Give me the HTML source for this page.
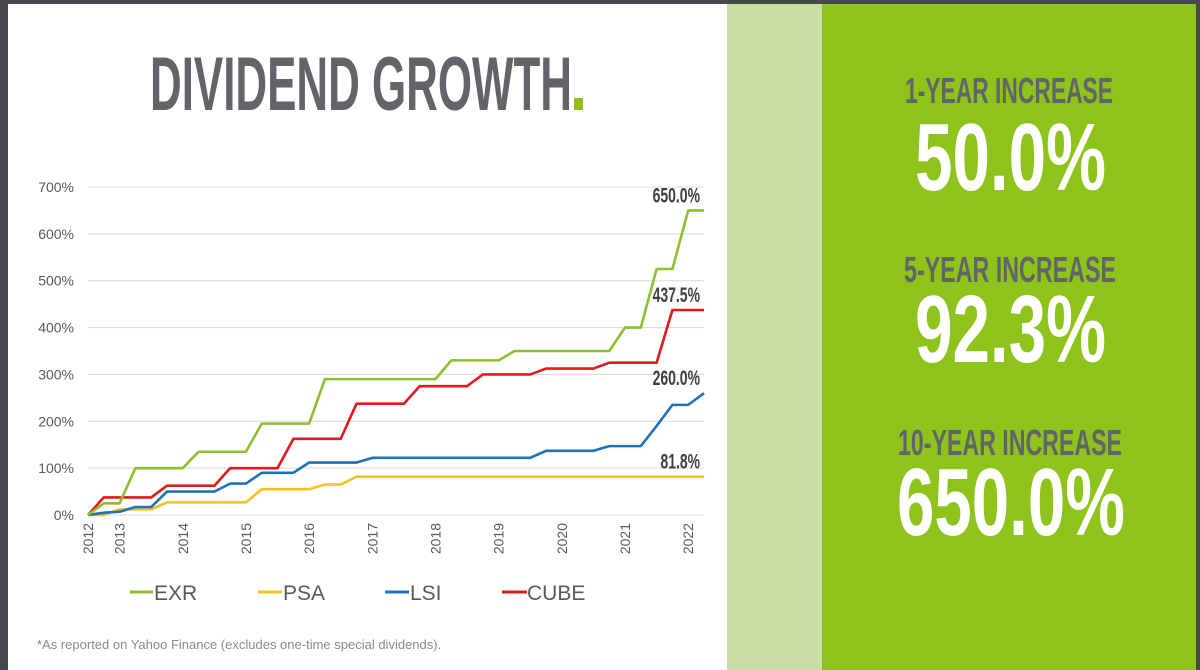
<!DOCTYPE html>
<html><head><meta charset="utf-8"><style>
html,body{margin:0;padding:0;background:#fff}
svg{display:block;font-family:"Liberation Sans",sans-serif}
</style></head><body>
<svg width="1200" height="670" viewBox="0 0 1200 670">
<rect x="0" y="0" width="1200" height="670" fill="#ffffff"/>
<rect x="727" y="0" width="95" height="670" fill="#c9dea3"/>
<rect x="822" y="0" width="378" height="670" fill="#8ec31b"/>
<rect x="0" y="0" width="1200" height="4" fill="#45484c"/>
<rect x="0" y="0" width="8" height="670" fill="#45484c"/>
<rect x="1196" y="0" width="4" height="670" fill="#45484c"/>
<text x="150" y="110" font-size="76" font-weight="bold" fill="#626469" textLength="422" lengthAdjust="spacingAndGlyphs">DIVIDEND GROWTH</text>
<rect x="574" y="98" width="9" height="12" fill="#8ec31b"/>

<g>
<text x="905" y="103" font-size="36" font-weight="bold" fill="#626469" textLength="208" lengthAdjust="spacingAndGlyphs">1-YEAR INCREASE</text>
<text x="915" y="190" font-size="96" font-weight="bold" fill="#fff" textLength="191" lengthAdjust="spacingAndGlyphs">50.0%</text>
<text x="904" y="282" font-size="36" font-weight="bold" fill="#626469" textLength="212" lengthAdjust="spacingAndGlyphs">5-YEAR INCREASE</text>
<text x="915" y="362" font-size="96" font-weight="bold" fill="#fff" textLength="191" lengthAdjust="spacingAndGlyphs">92.3%</text>
<text x="898" y="455" font-size="36" font-weight="bold" fill="#626469" textLength="224" lengthAdjust="spacingAndGlyphs">10-YEAR INCREASE</text>
<text x="897" y="535" font-size="96" font-weight="bold" fill="#fff" textLength="228" lengthAdjust="spacingAndGlyphs">650.0%</text>
</g>

<g id="chart"></g>

<g>
<g><line x1="130" y1="592" x2="153" y2="592" stroke="#8dbf2e" stroke-width="3"/><text x="154" y="600" font-size="21" fill="#595959">EXR</text></g>
<g><line x1="258" y1="592" x2="282" y2="592" stroke="#f6c124" stroke-width="3"/><text x="283" y="600" font-size="21" fill="#595959">PSA</text></g>
<g><line x1="385" y1="592" x2="409" y2="592" stroke="#1f72b8" stroke-width="3"/><text x="410" y="600" font-size="21" fill="#595959">LSI</text></g>
<g><line x1="502" y1="592" x2="527" y2="592" stroke="#e31a1c" stroke-width="3"/><text x="527" y="600" font-size="21" fill="#595959">CUBE</text></g>
</g>
<text x="37" y="649" font-size="13" fill="#8a8a8a">*As reported on Yahoo Finance (excludes one-time special dividends).</text>
</svg>
<script>
const yTicks = [0,100,200,300,400,500,600,700];
const yearLabels = ["2012","2013","2014","2015","2016","2017","2018","2019","2020","2021","2022"];
const yearQuarterIdx = [0,2,6,10,14,18,22,26,30,34,38];
const exr = [0,25,25,100,100,100,100,135,135,135,135,195,195,195,195,290,290,290,290,290,290,290,290,330,330,330,330,350,350,350,350,350,350,350,400,400,525,525,650,650];
const psa = [0,0,12,12,12,27,27,27,27,27,27,55,55,55,55,65,65,81.8,81.8,81.8,81.8,81.8,81.8,81.8,81.8,81.8,81.8,81.8,81.8,81.8,81.8,81.8,81.8,81.8,81.8,81.8,81.8,81.8,81.8,81.8];
const lsi = [0,5,7,17,17,50,50,50,50,67,67,90,90,90,112,112,112,112,122,122,122,122,122,122,122,122,122,122,122,137,137,137,137,147,147,147,190,235,235,260];
const cube = [0,37.5,37.5,37.5,37.5,62.5,62.5,62.5,62.5,100,100,100,100,162.5,162.5,162.5,162.5,237.5,237.5,237.5,237.5,275,275,275,275,300,300,300,300,312.5,312.5,312.5,312.5,325,325,325,325,437.5,437.5,437.5];
const endLabels = ["650.0%","437.5%","260.0%","81.8%"];

const NS="http://www.w3.org/2000/svg";
const g=document.getElementById('chart');
const X0=88, X1=704, Y0=515, Y1=187;
const n=exr.length;
const xs=i=>X0+(X1-X0)*i/(n-1);
const ys=v=>Y0-(Y0-Y1)*v/700;
function mk(t,a){const e=document.createElementNS(NS,t);for(const k in a)e.setAttribute(k,a[k]);g.appendChild(e);return e;}
yTicks.forEach(v=>{
  const l=mk('line',{x1:X0,x2:X1,y1:ys(v),y2:ys(v),stroke:'#d9d9d9','stroke-width':1});
  
  
  const t=mk('text',{x:74,y:ys(v)+5,'font-size':14,fill:'#595959','text-anchor':'end'});
  t.textContent=v+'%';
  
  
});
yearLabels.forEach((s,k)=>{
  const x=xs(yearQuarterIdx[k]);
  const t=mk('text',{x:0,y:0,'font-size':14,fill:'#595959','text-anchor':'end',transform:`translate(${x+5},${Y0+8}) rotate(-90)`});
  t.textContent=s;
  
  
});
const series=[[psa,'#f6c124','psa-line'],[lsi,'#1f72b8','lsi-line'],[cube,'#e31a1c','cube-line'],[exr,'#8dbf2e','exr-line']];
series.forEach(([d,c,nm])=>{
  const p=mk('polyline',{points:d.map((v,i)=>xs(i)+','+ys(v)).join(' '),fill:'none',stroke:c,'stroke-width':2.6,'stroke-linejoin':'round'});
  
  
});
const ends=[exr,cube,lsi,psa];
ends.forEach((d,k)=>{
  const v=d[d.length-1];
  const t=mk('text',{x:700,y:ys(v)-8,'font-size':21,'font-weight':'bold',fill:'#404040','text-anchor':'end',textLength:endLabels[k].length*7.9,lengthAdjust:'spacingAndGlyphs'});
  t.textContent=endLabels[k];
  
  
});
</script>
</body></html>
